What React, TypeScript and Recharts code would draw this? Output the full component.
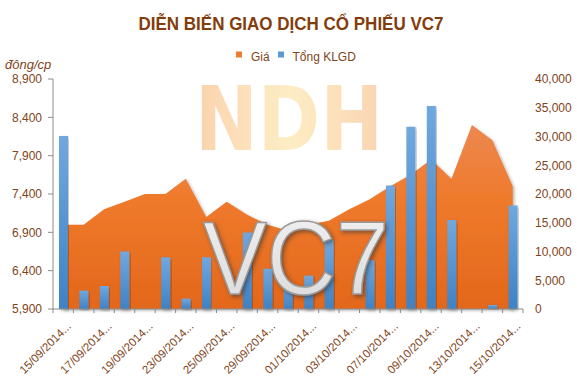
import React from 'react';
import { ComposedChart, Area, Bar, XAxis, YAxis } from 'recharts';

const dates = [
  '15/09/2014', '16/09/2014', '17/09/2014', '18/09/2014', '19/09/2014', '22/09/2014',
  '23/09/2014', '24/09/2014', '25/09/2014', '26/09/2014', '29/09/2014', '30/09/2014',
  '01/10/2014', '02/10/2014', '03/10/2014', '06/10/2014', '07/10/2014', '08/10/2014',
  '09/10/2014', '10/10/2014', '13/10/2014', '14/10/2014', '15/10/2014',
];
const prices = [
  7000, 7000, 7200, 7300, 7400, 7400, 7600, 7100, 7300, 7130, 7000, 6920,
  7000, 7050, 7200, 7330, 7500, 7650, 7850, 7600, 8300, 8100, 7500,
];
const volumes = [
  30100, 3200, 4000, 10000, 0, 9000, 1800, 9000, 0, 13300, 7000, 4500,
  5800, 12000, 0, 8500, 21500, 31700, 35300, 15500, 0, 700, 18000,
];
const priceTicks = [5900, 6400, 6900, 7400, 7900, 8400, 8900];
const volumeTicks = [0, 5000, 10000, 15000, 20000, 25000, 30000, 35000, 40000];

const data = dates.map((d, i) => ({ date: d, price: prices[i], vol: volumes[i] }));

const BROWN = '#7f4419';
const AXIS = '#8c8c8c';
const fmt = (v: number) => v.toLocaleString('en-US');

const DateTick = (props: any) => {
  const { x, y, payload, index } = props;
  const band = 470 / dates.length;
  const i = payload?.index ?? index;
  const tx = x + 8.5;
  const ty = y + 18;
  return (
    <g>
      <line x1={x - band / 2} x2={x - band / 2} y1={y} y2={y + 4} stroke={AXIS} />
      {i === dates.length - 1 && (
        <line x1={x + band / 2} x2={x + band / 2} y1={y} y2={y + 4} stroke={AXIS} />
      )}
      {i % 2 === 0 && (
        <text
          x={tx}
          y={ty}
          transform={`rotate(-45, ${tx}, ${ty})`}
          textAnchor="end"
          fontSize={11.5}
          fontFamily="Liberation Sans, Arial, sans-serif"
          fill={BROWN}
        >
          {payload.value + '...'}
        </text>
      )}
    </g>
  );
};

export default function App() {
  return (
    <div style={{ position: 'absolute', left: 0, top: 0, width: 577, height: 384, background: '#fff' }}>
      <ComposedChart
        width={577}
        height={384}
        data={data}
        margin={{ top: 79, right: 5, bottom: 5, left: 0 }}
        barCategoryGap={0}
      >
        <defs>
          <linearGradient id="areaGrad" x1="0" y1="0" x2="0" y2="1">
            <stop offset="0%" stopColor="#ec8850" />
            <stop offset="40%" stopColor="#ef7a2c" />
            <stop offset="100%" stopColor="#e3671b" />
          </linearGradient>
          <linearGradient id="barGrad" x1="0" y1="0" x2="0" y2="1">
            <stop offset="0%" stopColor="#70a8de" />
            <stop offset="100%" stopColor="#3e82c5" />
          </linearGradient>
          <filter id="soft" x="-10%" y="-10%" width="120%" height="120%">
            <feDropShadow dx="1.5" dy="1.5" stdDeviation="1.5" floodColor="#000" floodOpacity="0.3" />
          </filter>
        </defs>
        <XAxis
          dataKey="date"
          interval={0}
          height={70}
          tickSize={0}
          tickMargin={0}
          tickLine={false}
          axisLine={{ stroke: AXIS }}
          tick={<DateTick />}
        />
        <YAxis
          yAxisId="left"
          width={53}
          domain={[5900, 8900]}
          ticks={priceTicks}
          tickFormatter={fmt}
          tickSize={5}
          tickMargin={6}
          axisLine={{ stroke: AXIS }}
          tickLine={{ stroke: AXIS }}
          tick={{ fill: BROWN, fontSize: 12, fontFamily: 'Liberation Sans, Arial, sans-serif' }}
        />
        <YAxis
          yAxisId="right"
          orientation="right"
          width={49}
          domain={[0, 40000]}
          ticks={volumeTicks}
          tickFormatter={fmt}
          tickSize={6}
          tickMargin={6}
          axisLine={false}
          tickLine={false}
          tick={{ fill: BROWN, fontSize: 12, fontFamily: 'Liberation Sans, Arial, sans-serif', textAnchor: 'start' }}
        />
        <Area
          yAxisId="left"
          type="linear"
          dataKey="price"
          stroke="none"
          fill="url(#areaGrad)"
          fillOpacity={1}
          filter="url(#soft)"
          isAnimationActive={false}
        />
        <Bar
          yAxisId="right"
          dataKey="vol"
          barSize={9}
          fill="url(#barGrad)"
          filter="url(#soft)"
          isAnimationActive={false}
        />
      </ComposedChart>

      <svg
        width={577}
        height={384}
        style={{ position: 'absolute', left: 0, top: 0, pointerEvents: 'none' }}
      >
        <defs>
          <linearGradient id="ndhGrad" x1="0" y1="0" x2="1" y2="0">
            <stop offset="0%" stopColor="#f9c08c" />
            <stop offset="50%" stopColor="#fde6ac" />
            <stop offset="100%" stopColor="#f9c393" />
          </linearGradient>
          <linearGradient id="vcGrad" x1="0" y1="0" x2="0" y2="1">
            <stop offset="0%" stopColor="#f2f2f2" />
            <stop offset="100%" stopColor="#d9d9d9" />
          </linearGradient>
          <filter id="vcShadow" x="-10%" y="-10%" width="130%" height="130%">
            <feDropShadow dx="2" dy="2" stdDeviation="2" floodColor="#333" floodOpacity="0.6" />
          </filter>
        </defs>
        <text
          x={291}
          y={29.5}
          textAnchor="middle"
          fontSize={18}
          fontWeight="bold"
          fontFamily="Liberation Sans Narrow, Liberation Sans, Arial, sans-serif"
          fill="#843c0c"
          textLength={305}
          lengthAdjust="spacingAndGlyphs"
        >
          DIỄN BIẾN GIAO DỊCH CỔ PHIẾU VC7
        </text>
        <rect x={236} y={51.5} width={6} height={6} fill="#ed7d31" />
        <text x={251} y={60.5} fontSize={12} fontFamily="Liberation Sans, Arial, sans-serif" fill={BROWN}>
          Giá
        </text>
        <rect x={278} y={51.5} width={6} height={6} fill="#5b9bd5" />
        <text x={292.5} y={60.5} fontSize={12} fontFamily="Liberation Sans, Arial, sans-serif" fill={BROWN}>
          Tổng KLGD
        </text>
        <text
          x={5}
          y={69}
          fontSize={13}
          fontStyle="italic"
          fontFamily="Liberation Sans, Arial, sans-serif"
          fill={BROWN}
        >
          đông/cp
        </text>
        <text
          x={195}
          y={150}
          fontSize={89}
          fontWeight="bold"
          fontFamily="DejaVu Sans, sans-serif"
          fill="url(#ndhGrad)"
          opacity={0.7}
          textLength={188}
          lengthAdjust="spacingAndGlyphs"
        >
          NDH
        </text>
        <text
          x={203}
          y={294}
          fontSize={104}
          fontFamily="Liberation Sans, Arial, sans-serif"
          fill="url(#vcGrad)"
          stroke="#9a9a9a"
          strokeWidth={1.5}
          filter="url(#vcShadow)"
          textLength={186}
          lengthAdjust="spacingAndGlyphs"
        >
          VC7
        </text>
      </svg>
    </div>
  );
}
